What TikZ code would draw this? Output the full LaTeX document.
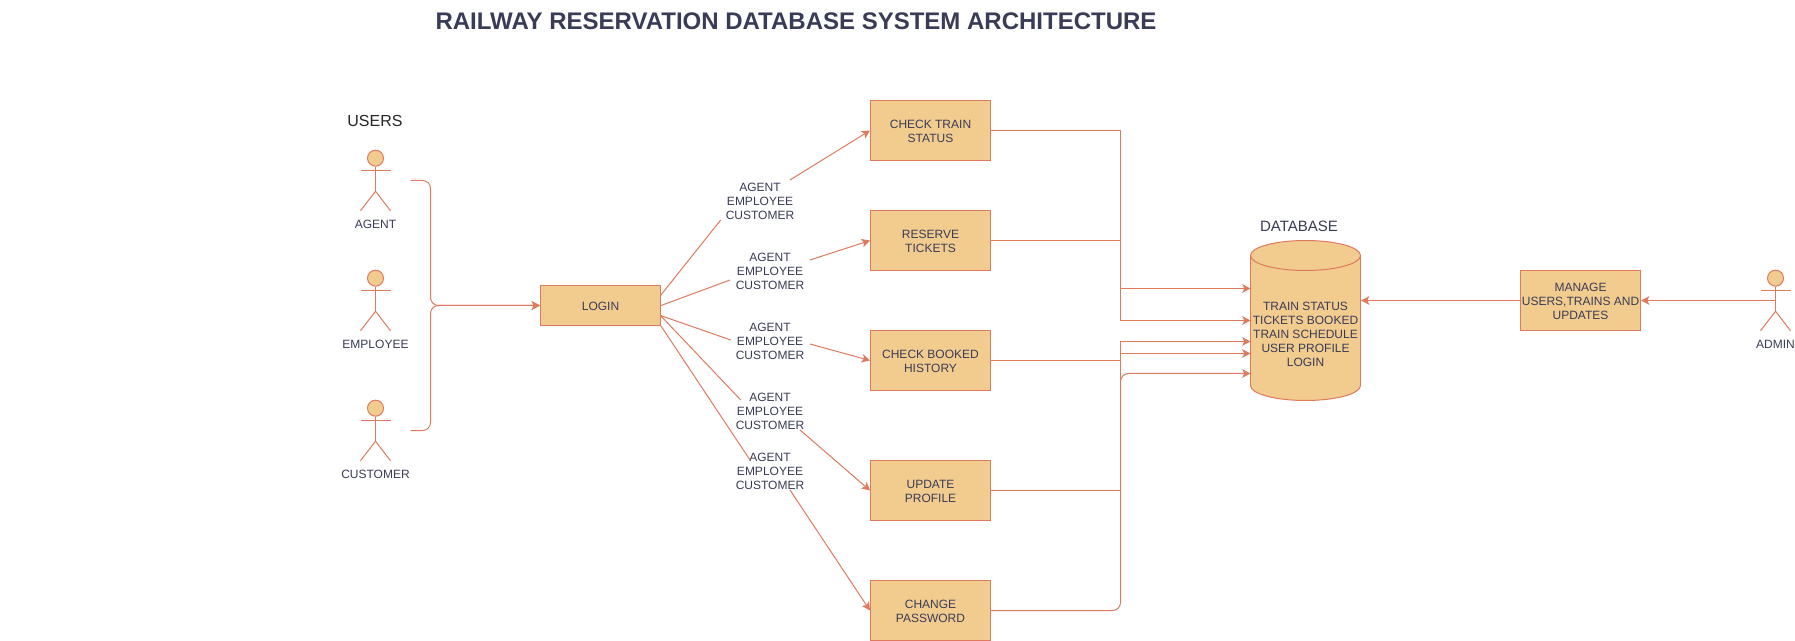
\documentclass[tikz,border=0pt]{standalone}
\usepackage{fontspec}
\setmainfont{Liberation Sans}
\usetikzlibrary{arrows.meta}
\definecolor{strokeC}{HTML}{E07A5F}
\definecolor{fillC}{HTML}{F2CC8F}
\definecolor{inkC}{HTML}{393C56}
\newcommand{\topstrut}{\rule{0pt}{7.9pt}}
\tikzset{
  pxfont/.style={font=\fontsize{9pt}{10.5pt}\selectfont},
  line/.style={draw=strokeC,line width=0.75pt},
  conn/.style={line,-{Stealth[length=6.2pt,width=6.4pt,inset=1.5pt]}},
  box/.style={draw=strokeC,fill=fillC,line width=0.75pt,minimum width=90pt,minimum height=45pt,inner sep=0pt,align=center,text=inkC,pxfont},
  lab/.style={text=inkC,align=center,inner sep=0pt,pxfont},
}
\newcommand{\actorfig}[5]{% name, x, head y, label, label name
  \node[circle,draw=strokeC,fill=fillC,line width=0.75pt,minimum size=12pt,inner sep=0pt] (#1) at (#2,#3) {};
  \draw[line] (#1.south) -- +(0,25);
  \draw[line] (#2-15,#3+12.3) -- (#2+15,#3+12.3);
  \draw[line] (#2-15,#3+52.6) -- (#2,#3+33) -- (#2+15,#3+52.6);
  \node[lab] (#5) at (#2,#3+64.8) {\topstrut #4};
}
\newcommand{\threeroles}{\topstrut AGENT\\EMPLOYEE\\CUSTOMER}
\begin{document}
\begin{tikzpicture}[x=0.75pt,y=-0.75pt]
\useasboundingbox (0,0) rectangle (1795,641);
\fill[white] (0,0) rectangle (1795,641);

\node[text=inkC,inner sep=0pt,font=\fontsize{18pt}{21pt}\selectfont\bfseries] (title) at (796,21.5) {RAILWAY RESERVATION DATABASE SYSTEM ARCHITECTURE};
\node[inner sep=0pt,text=black!85,font=\fontsize{12pt}{14pt}\selectfont] (users) at (375,121) {USERS};
\node[inner sep=0pt,text=inkC,font=\fontsize{11.25pt}{13pt}\selectfont] (dbtitle) at (1299,226) {DATABASE};

% actors
\actorfig{agent}{375.5}{158.2}{AGENT}{agentlab}
\actorfig{employee}{375.5}{278.2}{EMPLOYEE}{employeelab}
\actorfig{customer}{375.5}{408.2}{CUSTOMER}{customerlab}
\actorfig{admin}{1775.5}{278.2}{ADMIN}{adminlab}

% boxes
\node[box,minimum height=30pt] (login) at (600.5,305.5) {\topstrut LOGIN};
\node[box] (t1) at (930.5,130.5) {\topstrut CHECK TRAIN\\STATUS};
\node[box] (t2) at (930.5,240.5) {\topstrut RESERVE\\TICKETS};
\node[box] (t3) at (930.5,360.5) {\topstrut CHECK BOOKED\\HISTORY};
\node[box] (t4) at (930.5,490.5) {\topstrut UPDATE\\PROFILE};
\node[box] (t5) at (930.5,610.5) {\topstrut CHANGE\\PASSWORD};
\node[box] (manage) at (1580.5,300.5) {\topstrut MANAGE\\USERS,TRAINS AND\\UPDATES};

% database cylinder
\draw[line,fill=fillC] (1305.5,385.5) ellipse [x radius=55,y radius=15];
\fill[fillC] (1250.5,255.5) rectangle (1360.5,385.5);
\draw[line] (1250.5,255.5) -- (1250.5,385.5) (1360.5,255.5) -- (1360.5,385.5);
\draw[line,fill=fillC] (1305.5,255.5) ellipse [x radius=55,y radius=15];
\node[lab] (db) at (1305.5,333.5) {\topstrut TRAIN STATUS\\TICKETS BOOKED\\TRAIN SCHEDULE\\USER PROFILE\\LOGIN};

% anchors
\coordinate (agentport) at (410.5,180.5);
\coordinate (customerport) at (410.5,430.5);
\coordinate (adminport) at (1775.5,300.5);
\coordinate (dbe) at (1361,300.5);
\coordinate (bus) at (1120.5,0);
\coordinate (brace) at (430.5,0);
\coordinate (db1) at (1250.5,288.5);
\coordinate (db2) at (1250.5,320.5);
\coordinate (db3) at (1250.5,341.5);
\coordinate (db4) at (1250.5,353.5);
\coordinate (db5) at (1250.5,373.5);
\coordinate (p1) at (660.5,295.5);
\coordinate (p3) at (660.5,315.5);

% users to login
\draw[conn,rounded corners=6pt] (agentport) -- (brace |- agentport) -- (brace |- login.west) -- (login.west);
\draw[conn,rounded corners=6pt] (customerport) -- (brace |- customerport) -- (brace |- login.west) -- (login.west);

% labels on login edges
\node[lab] (l1) at (760,200.5) {\threeroles};
\node[lab] (l2) at (770,270.5) {\threeroles};
\node[lab] (l3) at (770,340.5) {\threeroles};
\node[lab] (l4) at (770,410.5) {\threeroles};
\node[lab] (l5) at (770,470.5) {\threeroles};
\coordinate (a1) at (720.7,220);
\coordinate (b1) at (790,180);
\coordinate (a2) at (730,280);
\coordinate (b2) at (810,260);
\coordinate (a3) at (730.7,340);
\coordinate (b3) at (810,344);
\coordinate (a4) at (740.7,400);
\coordinate (b4) at (800,430);
\coordinate (a5) at (750,460);
\coordinate (b5) at (790,490);
\draw[line] (p1) -- (a1);
\draw[conn] (b1) -- (t1.west);
\draw[line] (login.east) -- (a2);
\draw[conn] (b2) -- (t2.west);
\draw[line] (p3) -- (a3);
\draw[conn] (b3) -- (t3.west);
\draw[line] (p3) -- (a4);
\draw[conn] (b4) -- (t4.west);
\draw[line] (login.south east) -- (a5);
\draw[conn] (b5) -- (t5.west);

% boxes to database
\draw[conn] (t1.east) -- (bus |- t1.east) -- (bus |- db2) -- (db2);
\draw[conn] (t2.east) -- (bus |- t2.east) -- (bus |- db1) -- (db1);
\draw[conn] (t3.east) -- (bus |- t3.east) -- (bus |- db4) -- (db4);
\draw[conn] (t4.east) -- (bus |- t4.east) -- (bus |- db3) -- (db3);
\draw[conn,rounded corners=6pt] (t5.east) -- (bus |- t5.east) -- (bus |- db5) -- (db5);

% admin
\draw[conn] (manage.west) -- (dbe);
\draw[conn] (adminport) -- (manage.east);
\end{tikzpicture}
\end{document}
